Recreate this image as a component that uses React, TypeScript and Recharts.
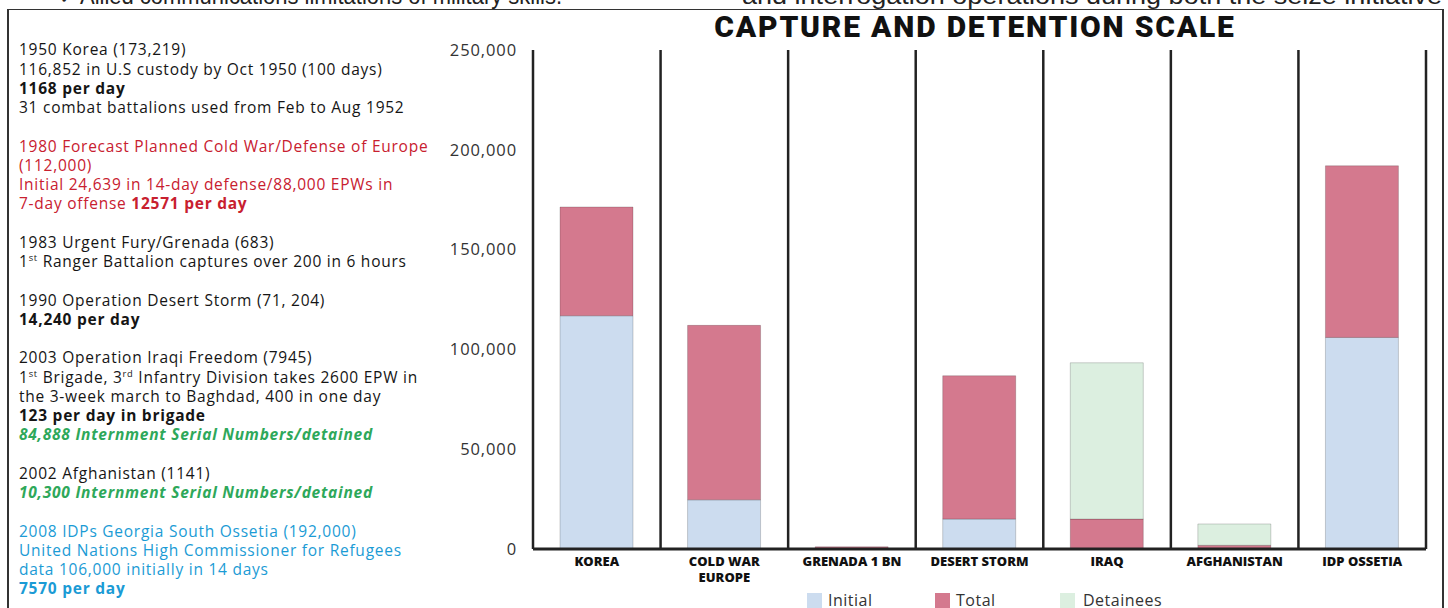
import React from "react";
import { Bar, BarChart, CartesianGrid, XAxis, YAxis } from "recharts";

const categories = ["KOREA", "COLD WAR\nEUROPE", "GRENADA 1 BN", "DESERT STORM", "IRAQ", "AFGHANISTAN", "IDP OSSETIA"];
const initialValues = [116852, 24639, 0, 15000, 0, 0, 106000];
const totalValues = [54500, 87400, 1100, 71800, 15000, 1850, 86000];
const detaineeValues = [0, 0, 0, 0, 78300, 10700, 0];
const yTicks = [0, 50000, 100000, 150000, 200000, 250000];

const data = categories.map((name, i) => ({
  name,
  initial: initialValues[i],
  total: totalValues[i],
  detainees: detaineeValues[i]
}));

const seriesList = [
  { key: "initial", name: "Initial", color: "#ccdcef" },
  { key: "total", name: "Total", color: "#d4798e" },
  { key: "detainees", name: "Detainees", color: "#dcefe0" }
];

const BLACK = "#151515";
const RED = "#c8202f";
const GREEN = "#2ea85a";
const BLUE = "#1b9bd5";

type Line = { text: React.ReactNode; color?: string; bold?: boolean; italic?: boolean; gap?: boolean };

const sup = (s: string) => <sup style={{ fontSize: "0.6em", verticalAlign: "0.6em", lineHeight: 0 }}>{s}</sup>;

const notes: Line[] = [
  { text: "1950 Korea (173,219)" },
  { text: "116,852 in U.S custody by Oct 1950 (100 days)" },
  { text: "1168 per day", bold: true },
  { text: "31 combat battalions used from Feb to Aug 1952" },
  { text: "1980 Forecast Planned Cold War/Defense of Europe", color: RED, gap: true },
  { text: "(112,000)", color: RED },
  { text: "Initial 24,639 in 14-day defense/88,000 EPWs in", color: RED },
  { text: <>7-day offense <b>12571 per day</b></>, color: RED },
  { text: "1983 Urgent Fury/Grenada (683)", gap: true },
  { text: <>1{sup("st")} Ranger Battalion captures over 200 in 6 hours</> },
  { text: "1990 Operation Desert Storm (71, 204)", gap: true },
  { text: "14,240 per day", bold: true },
  { text: "2003 Operation Iraqi Freedom (7945)", gap: true },
  { text: <>1{sup("st")} Brigade, 3{sup("rd")} Infantry Division takes 2600 EPW in</> },
  { text: "the 3-week march to Baghdad, 400 in one day" },
  { text: "123 per day in brigade", bold: true },
  { text: "84,888 Internment Serial Numbers/detained", bold: true, italic: true, color: GREEN },
  { text: "2002 Afghanistan (1141)", gap: true },
  { text: "10,300 Internment Serial Numbers/detained", bold: true, italic: true, color: GREEN },
  { text: "2008 IDPs Georgia South Ossetia (192,000)", color: BLUE, gap: true },
  { text: "United Nations High Commissioner for Refugees", color: BLUE },
  { text: "data 106,000 initially in 14 days", color: BLUE },
  { text: "7570 per day", bold: true, color: BLUE }
];

const CategoryTick = (props: any) => {
  const { x, y, payload } = props;
  const lines = String(payload.value).split("\n");
  return (
    <text x={x} y={y} textAnchor="middle" fontFamily="Open Sans" fontWeight={800} fontSize={13} fill="#111">
      {lines.map((l, i) => (
        <tspan key={i} x={x} dy={i === 0 ? 9 : 16}>
          {l}
        </tspan>
      ))}
    </text>
  );
};

const LH = 19.25;

export default function App() {
  return (
    <div style={{ position: "absolute", left: 0, top: 0, width: 1448, height: 608, overflow: "hidden", background: "#fff" }}>
      <svg width={1448} height={20} style={{ position: "absolute", left: 0, top: 0 }}>
        <text x={58} y={4} fontFamily="Liberation Sans" fontSize={24} fill="#222">✓</text>
        <text x={80} y={4} fontFamily="Liberation Sans" fontSize={24} fill="#222" textLength={482} lengthAdjust="spacingAndGlyphs">
          Allied communications limitations of military skills.
        </text>
        <text x={742} y={4} fontFamily="Liberation Sans" fontSize={24} fill="#222" textLength={700} lengthAdjust="spacingAndGlyphs">
          and interrogation operations during both the seize initiative
        </text>
      </svg>
      <div style={{ position: "absolute", left: 7, top: 9, width: 1433, height: 640, borderLeft: "2px solid #333", borderTop: "1.5px solid #333", borderRight: "2px solid #333" }} />
      <div style={{ position: "absolute", left: 675, top: 8, width: 600, textAlign: "center", fontFamily: "Roboto", fontWeight: 900, fontSize: 30, letterSpacing: 1.8, color: "#111", lineHeight: "38px" }}>
        CAPTURE AND DETENTION SCALE
      </div>
      <div style={{ position: "absolute", left: 19, top: 50 - LH / 2, fontFamily: "Open Sans", fontSize: 15.5, letterSpacing: 0.75, lineHeight: `${LH}px`, whiteSpace: "nowrap" }}>
        {notes.map((n, i) => (
          <div
            key={i}
            style={{
              color: n.color || BLACK,
              fontWeight: n.bold ? 700 : 400,
              fontStyle: n.italic ? "italic" : "normal",
              marginTop: n.gap ? LH : 0
            }}
          >
            {n.text}
          </div>
        ))}
      </div>
      <div style={{ position: "absolute", left: 0, top: 0 }}>
        <BarChart width={1448} height={608} data={data} margin={{ top: 50, right: 22, bottom: 29, left: 453 }} barSize={73}>
          <CartesianGrid
            horizontal={false}
            stroke="#222"
            strokeWidth={2.5}
            strokeOpacity={1}
            verticalCoordinatesGenerator={({ offset }: any) =>
              Array.from({ length: categories.length + 1 }, (_, i) => offset.left + (i * offset.width) / categories.length)
            }
          />
          <XAxis
            dataKey="name"
            interval={0}
            height={30}
            tickLine={false}
            axisLine={{ stroke: "#222", strokeWidth: 3 }}
            tick={<CategoryTick />}
          />
          <YAxis
            width={80}
            domain={[0, 250000]}
            ticks={yTicks}
            axisLine={false}
            tickLine={false}
            tickMargin={10}
            tickFormatter={(v: number) => v.toLocaleString("en-US")}
            tick={{ fontFamily: "Open Sans", fontSize: 16.5, fill: "#333", letterSpacing: 0.9 }}
          />
          {seriesList.map((s) => (
            <Bar
              key={s.key}
              dataKey={s.key}
              name={s.name}
              stackId="a"
              fill={s.color}
              stroke="rgba(0,0,0,0.18)"
              strokeWidth={1}
              isAnimationActive={false}
            />
          ))}
        </BarChart>
      </div>
      <div style={{ position: "absolute", left: 807, top: 591, display: "flex", fontFamily: "Open Sans", fontSize: 16, letterSpacing: 0.5, color: "#333" }}>
        {seriesList.map((s, i) => (
          <div key={s.key} style={{ display: "flex", alignItems: "flex-start", width: i === 0 ? 128 : 125 }}>
            <div style={{ width: 15, height: 17, background: s.color, marginRight: 6, marginTop: 2 }} />
            <span style={{ lineHeight: "18px", marginLeft: i === 2 ? 2 : 0 }}>{s.name}</span>
          </div>
        ))}
      </div>
    </div>
  );
}
